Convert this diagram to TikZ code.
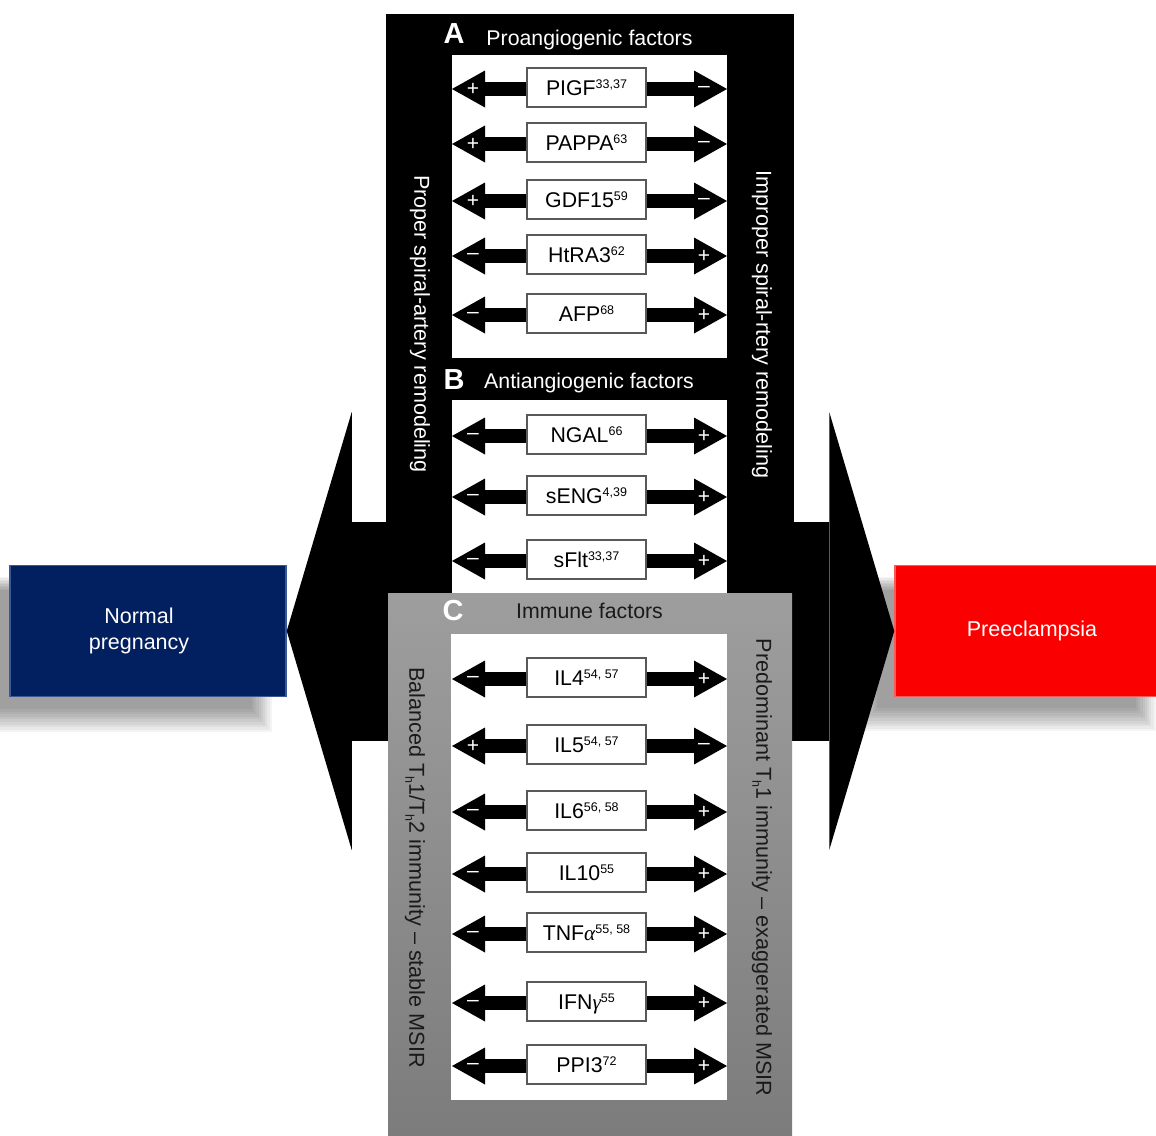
\documentclass[tikz,border=0pt]{standalone}
\usepackage{fontspec}
\setmainfont{Liberation Sans}
\newfontfamily\greekserif{Liberation Serif}
\usetikzlibrary{arrows.meta}
\definecolor{navy}{HTML}{022060}
\definecolor{navyedge}{HTML}{3A5896}
\definecolor{redbox}{HTML}{FB0000}
\definecolor{rededge}{HTML}{FF5A5A}
\definecolor{graytop}{HTML}{9E9E9E}
\definecolor{graybot}{HTML}{7C7C7C}
\definecolor{darktext}{HTML}{1A1A1A}
\newcommand\sups[1]{\raisebox{7pt}{\fontsize{12.5}{12.5}\selectfont #1}}
\newcommand\subh{\raisebox{-4pt}{\fontsize{12.5}{12.5}\selectfont h}}
\newcommand\factor[5]{%
  \coordinate (#1L) at (452,#2);
  \coordinate (#1R) at (727,#2);
  \draw[dblarrow] (#1L) -- (#1R);
  \node[fbox] (#1) at (586.5,#2-1.5) {#3};
  \node[sign] (#1-ls) at (473,#2) {#4};
  \node[sign] (#1-rs) at (704,#2) {#5};
}
\begin{document}
\begin{tikzpicture}[x=1pt,y=-1pt,
  fbox/.style={draw=black!65, line width=1.3pt, fill=white, minimum width=119pt,
    minimum height=39pt, inner sep=0pt, text height=18pt, text depth=2pt,
    font=\fontsize{21.3}{25}\selectfont},
  sign/.style={text=white, font=\fontsize{21}{21}\selectfont, inner sep=0pt},
  dblarrow/.style={line width=14pt,
    {Triangle[length=33pt,width=37pt,line width=0pt]}-{Triangle[length=33pt,width=37pt,line width=0pt]}},
  hdr/.style={font=\fontsize{21.3}{25}\selectfont, anchor=base, inner sep=0pt},
  letter/.style={font=\fontsize{29}{29}\selectfont\bfseries, text=white, anchor=base, inner sep=0pt},
  side/.style={font=\fontsize{21.6}{25}\selectfont, rotate=-90, inner sep=0pt},
  outcome/.style={minimum height=131pt, line width=1.5pt, inner sep=0pt},
  outtext/.style={text=white, font=\fontsize{21.5}{26}\selectfont, align=center, inner sep=0pt}
]
\useasboundingbox (0,0) rectangle (1156,1135);
\fill[white] (0,0) rectangle (1156,1135);

% soft shadows of the two outcome boxes
\foreach \k in {0,...,9} {
  \fill[black, opacity=0.042] (10-12-\k*2.2, 566+24-\k*1.5) rectangle (286-34+\k*2.2, 697+12+\k*2.6);
  \fill[black, opacity=0.042] (895-18-\k*2.2, 566+24-\k*1.5) rectangle (1170-34+\k*2.2, 696+12+\k*2.6);
}

% outcome boxes
\node[outcome, fill=navy, draw=navyedge, minimum width=276pt] (normal) at (148,631) {};
\node[outtext] (normaltext) at (139,631) {Normal\\pregnancy};
\node[outcome, fill=redbox, draw=rededge, minimum width=275pt] (pre) at (1032.5,631) {};
\node[outtext] (pretext) at (1032,631) {Preeclampsia};

% big double arrow between the outcomes
\draw[line width=219pt,
  {Triangle[length=65pt,width=438pt,line width=0pt]}-{Triangle[length=65pt,width=438pt,line width=0pt]}]
  (normal.east) -- (pre.west);

% black frame (A, B)
\fill[black] (386,14) rectangle (794,593);
\fill[white] (452,55) rectangle (727,358);
\fill[white] (452,400) rectangle (727,593);

% gray frame (C)
\shade[top color=graytop, bottom color=graybot] (388,593) rectangle (792,1135);
\fill[white] (451,634) rectangle (727,1100);

% headers
\node[letter] (lA) at (454,43) {A};
\node[hdr, text=white] (hA) at (589.5,45) {Proangiogenic factors};
\node[letter] (lB) at (454,389) {B};
\node[hdr, text=white] (hB) at (589,388) {Antiangiogenic factors};
\node[letter] (lC) at (453,620) {C};
\node[hdr, text=darktext] (hC) at (589.5,618) {Immune factors};

% side texts
\node[side, text=white] (sideAL) at (420,324) {Proper spiral-artery remodeling};
\node[side, text=white] (sideAR) at (762,324.5) {Improper spiral-rtery remodeling};
\node[side, text=darktext] (sideCL) at (415,867.5) {Balanced T\subh1/T\subh2 immunity -- stable MSIR};
\node[side, text=darktext] (sideCR) at (762,867.5) {Predominant T\subh1 immunity -- exaggerated MSIR};

% A: proangiogenic
\factor{plgf}{89}{PIGF\sups{33,37}}{+}{--}
\factor{pappa}{144}{PAPPA\sups{63}}{+}{--}
\factor{gdf}{201}{GDF15\sups{59}}{+}{--}
\factor{htra}{256}{HtRA3\sups{62}}{--}{+}
\factor{afp}{315}{AFP\sups{68}}{--}{+}
% B: antiangiogenic
\factor{ngal}{436}{NGAL\sups{66}}{--}{+}
\factor{seng}{497}{sENG\sups{4,39}}{--}{+}
\factor{sflt}{561}{sFlt\sups{33,37}}{--}{+}
% C: immune
\factor{ilfour}{679}{IL4\sups{54, 57}}{--}{+}
\factor{ilfive}{746}{IL5\sups{54, 57}}{+}{--}
\factor{ilsix}{812}{IL6\sups{56, 58}}{--}{+}
\factor{ilten}{874}{IL10\sups{55}}{--}{+}
\factor{tnf}{934}{TNF{\greekserif\itshape α}\sups{55, 58}}{--}{+}
\factor{ifn}{1003}{IFN{\greekserif\itshape γ}\sups{55}}{--}{+}
\factor{ppi}{1066}{PPI3\sups{72}}{--}{+}
\end{tikzpicture}
\end{document}
